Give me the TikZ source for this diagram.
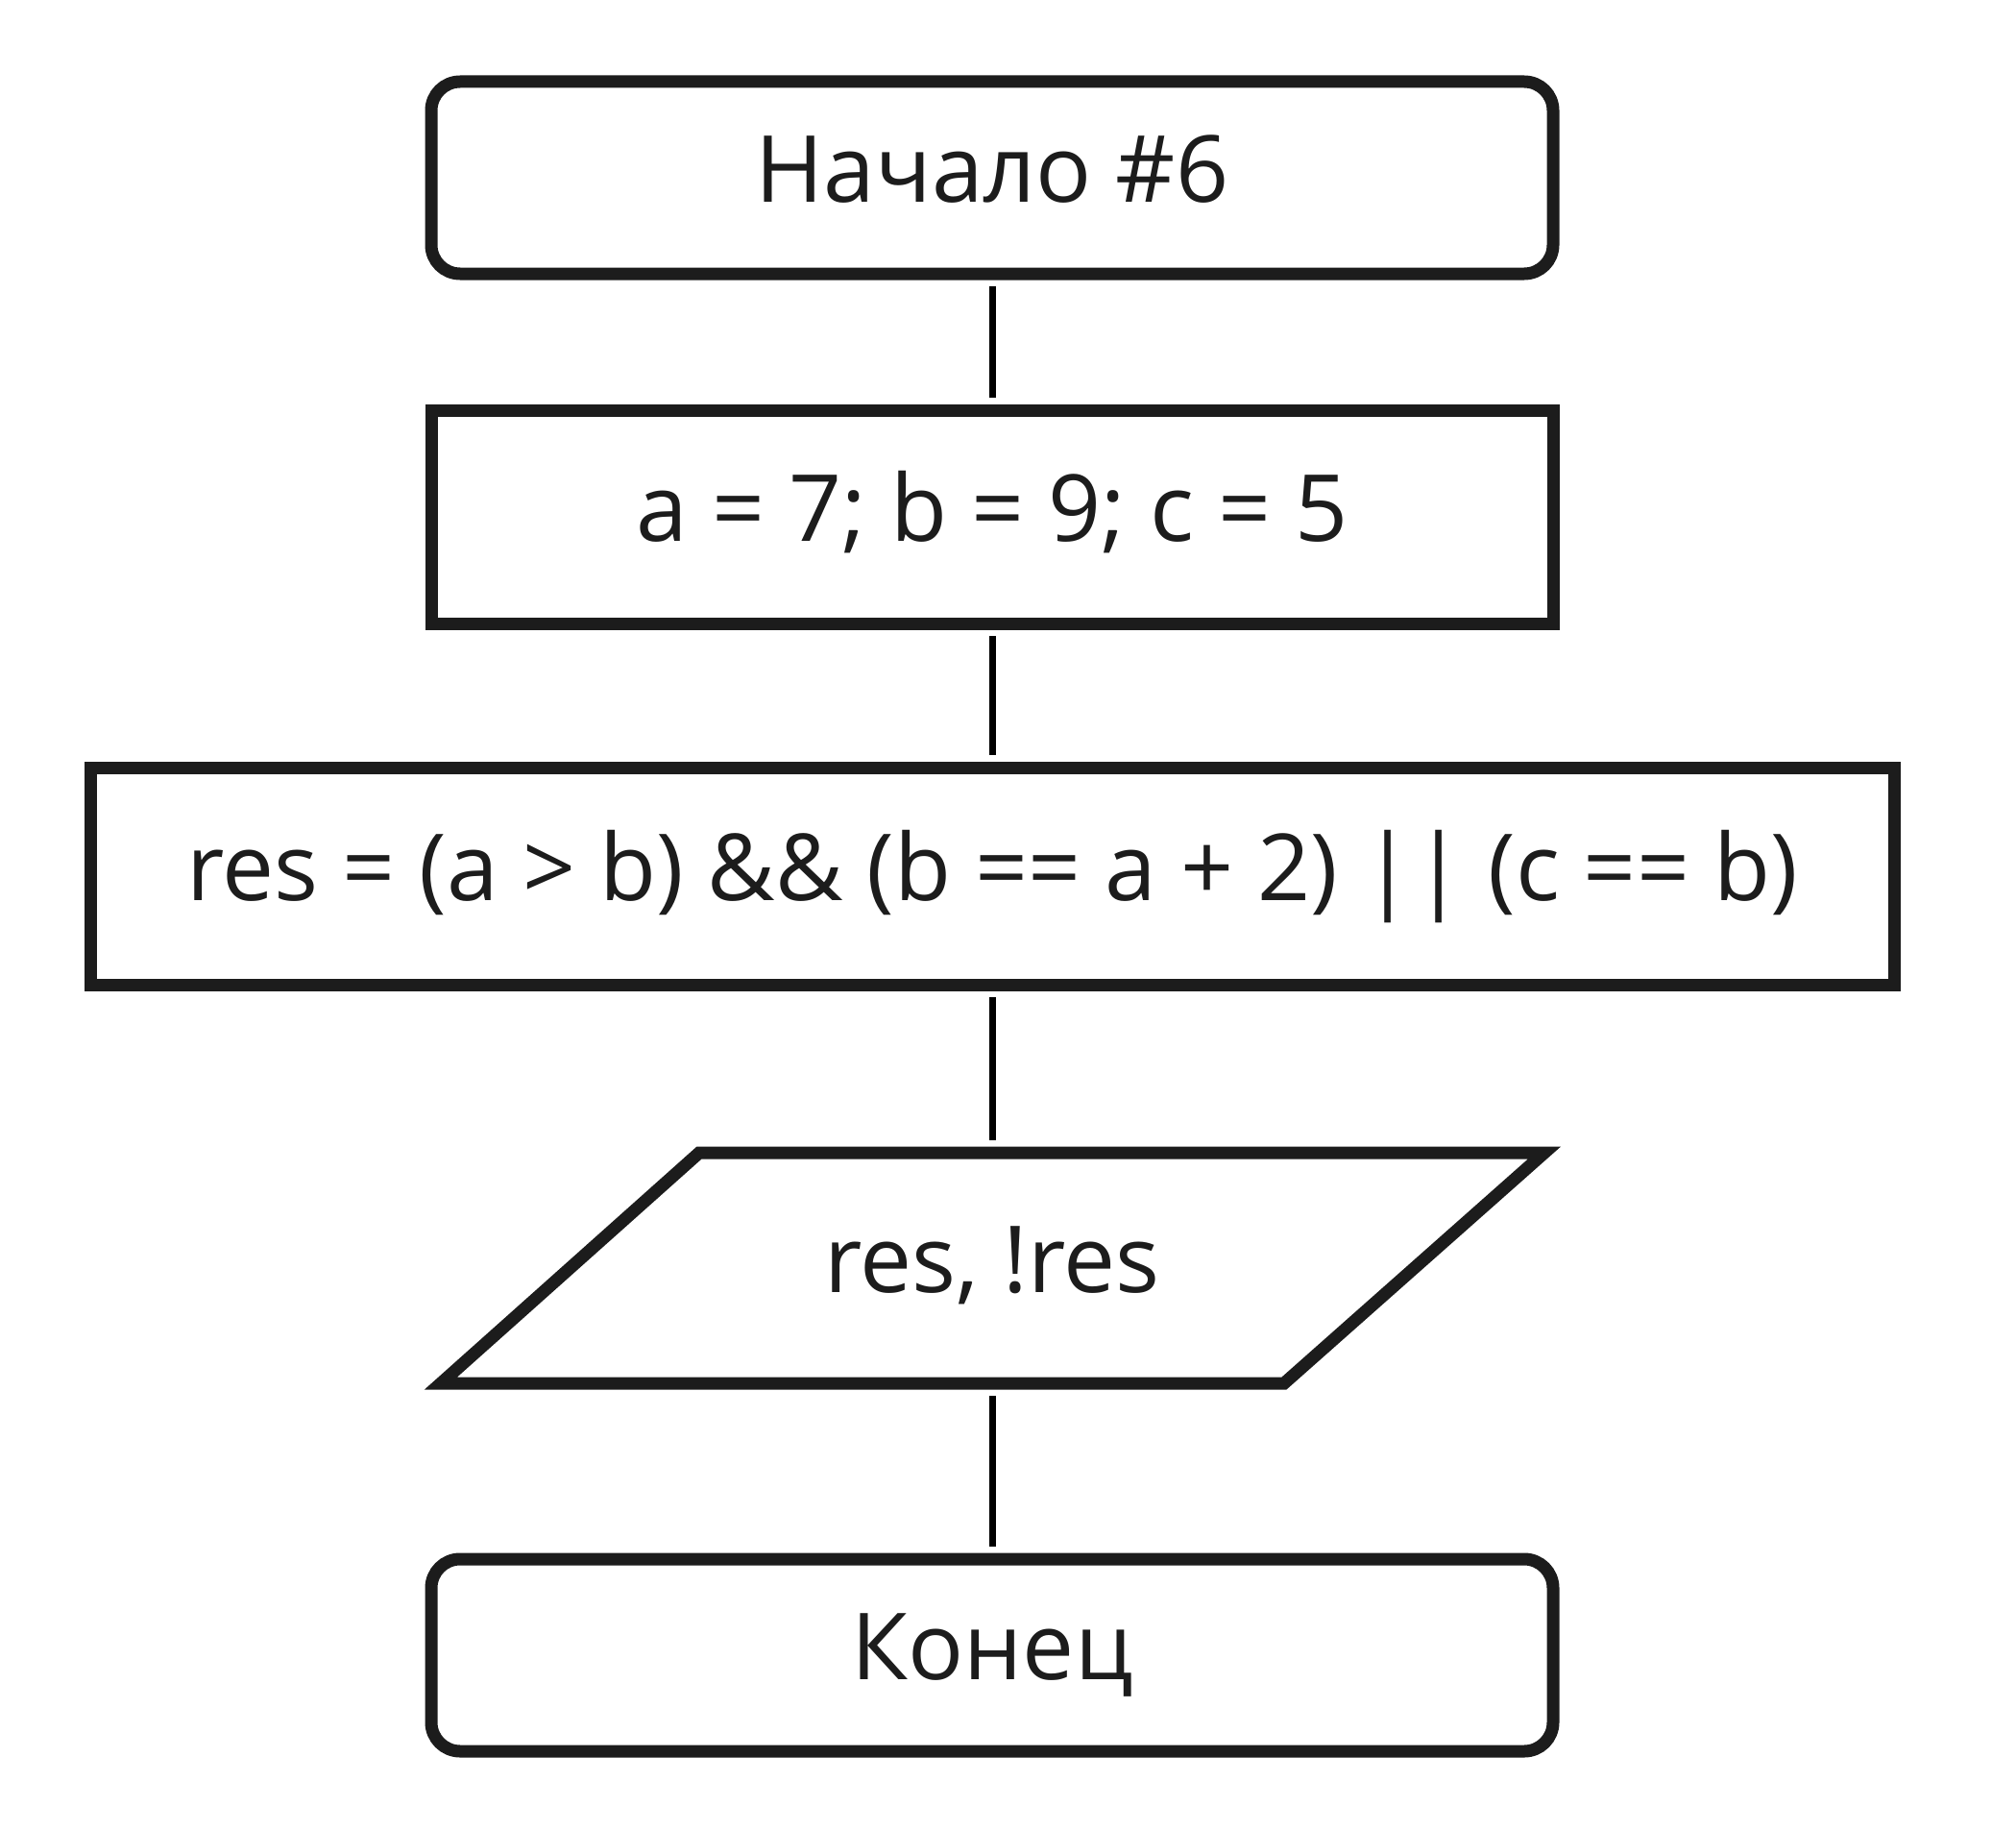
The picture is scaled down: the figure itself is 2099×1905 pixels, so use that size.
\documentclass[tikz,border=0pt]{standalone}
\usepackage{fontspec}
\setmainfont{Open Sans}
\definecolor{ink}{RGB}{28,28,28}
\begin{document}
\begin{tikzpicture}[x=0.5pt,y=-0.5pt,
  base/.style={line width=6.5pt, draw=ink, text=ink, inner sep=0pt, outer sep=0pt,
    font=\fontsize{48.2pt}{58pt}\selectfont, text height=34.4pt, text depth=9pt},
  termbox/.style={base, rounded corners=15pt, minimum width=584pt, minimum height=100pt},
  procbox/.style={base, minimum width=584pt, minimum height=111pt},
  link/.style={line width=3.5pt, draw=black, shorten <=6.5pt, shorten >=6.5pt}]
\useasboundingbox (0,0) rectangle (2099,1905);
\node[termbox] (start) at (1033,185) {Начало \#6};
\node[procbox] (init) at (1033,538) {a = 7; b = 9; c = 5};
\node[procbox, minimum width=939pt, minimum height=113pt] (calc) at (1033,912) {res = (a > b) \&\& (b == a + 2) || (c == b)};
\draw[line width=6.5pt, draw=ink] (459,1440) -- (728,1200) -- (1608,1200) -- (1337,1440) -- cycle;
\node[base, draw=none, minimum width=440pt, minimum height=120pt] (io) at (1033,1320) {res, !res};
\node[termbox] (stop) at (1033,1723) {Конец};
\draw[link] (start.south) -- (init.north);
\draw[link] (init.south) -- (calc.north);
\draw[link] (calc.south) -- (io.north);
\draw[link] (io.south) -- (stop.north);
\end{tikzpicture}
\end{document}
